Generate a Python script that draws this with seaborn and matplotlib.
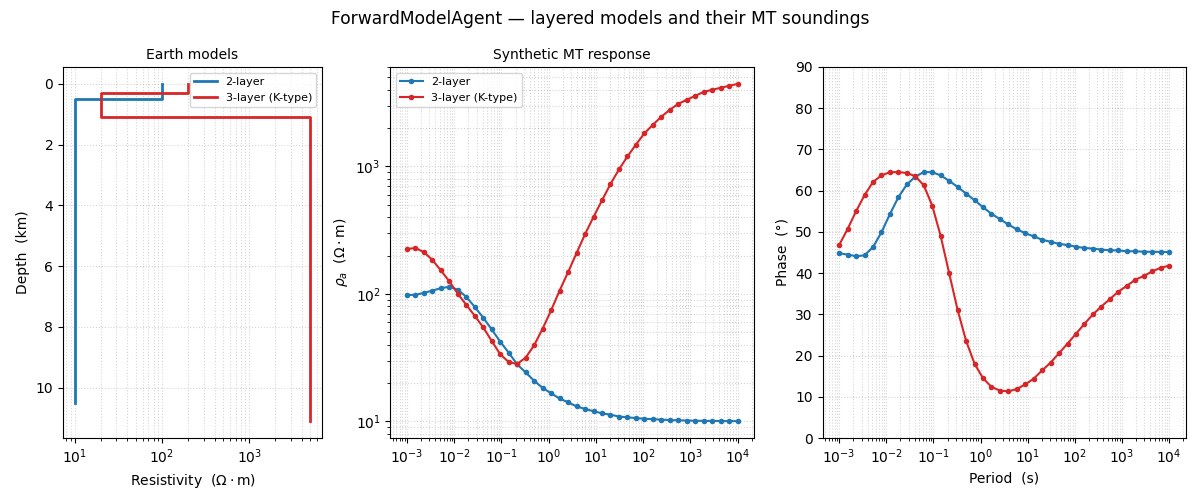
import numpy as np
import pandas as pd
import matplotlib
matplotlib.use('Agg')
import matplotlib.pyplot as plt
import seaborn as sns

# --- layered models (resistivity in ohm-m, thickness in km) ---
rho_2layer = [100, 10]
thk_2layer = [0.5]
rho_3layer = [200, 20, 5000]
thk_3layer = [0.3, 0.8]
halfspace_extra = 10.0  # km drawn below the last interface

# --- MT soundings ---
periods = np.logspace(-3, 4, 40)

rhoa_2layer = [98.2, 98.2, 102, 106, 111, 113.5, 108, 94.8, 79, 65,
               52.6, 42.2, 34.6, 28.0, 24.2, 20.8, 18.3, 16.6, 15.1, 14.1,
               13.1, 12.5, 12.0, 11.55, 11.27, 10.9, 10.74, 10.6, 10.47, 10.4,
               10.3, 10.23, 10.18, 10.14, 10.1, 10.08, 10.06, 10.05, 10.04, 10.03]
rhoa_3layer = [225, 229, 213, 185, 153, 125.5, 100.5, 82, 67.3, 54.6,
               42.7, 33.6, 29.2, 28.2, 31.6, 39.5, 53.3, 74.2, 106, 148,
               209, 294, 402, 542, 728, 948, 1198, 1485, 1820, 2128,
               2460, 2787, 3105, 3337, 3588, 3855, 3998, 4145, 4297, 4450]

phase_2layer = [44.8, 44.5, 44.1, 44.3, 46.3, 49.9, 54.3, 58.4, 61.5, 63.4,
                64.5, 64.5, 63.7, 62.4, 60.9, 59.3, 57.7, 56.0, 54.4, 53.1,
                51.8, 50.6, 49.7, 48.9, 48.1, 47.6, 47.1, 46.8, 46.4, 46.1,
                45.95, 45.7, 45.55, 45.5, 45.3, 45.3, 45.2, 45.15, 45.15, 45.1]
phase_3layer = [46.8, 50.7, 55.0, 58.9, 62.1, 63.7, 64.5, 64.5, 64.3, 63.5,
                61.3, 56.4, 49.0, 40.0, 31.1, 23.6, 18.05, 14.5, 12.4, 11.5,
                11.3, 11.9, 13.0, 14.4, 16.4, 18.3, 20.6, 22.9, 25.3, 27.7,
                30.0, 31.9, 33.7, 35.5, 36.9, 38.4, 39.3, 40.4, 41.3, 41.8]

labels = ['2-layer', '3-layer (K-type)']
colors = ['tab:blue', 'tab:red']


def step_profile(rho, thk, extra):
    tops = [0.0] + list(np.cumsum(thk))
    bottom = tops[-1] + extra
    xs, ys = [], []
    for i, r in enumerate(rho):
        z0 = tops[i]
        z1 = tops[i + 1] if i + 1 < len(tops) else bottom
        xs += [r, r]
        ys += [z0, z1]
    return xs, ys


# build tidy frames
model_rows = []
for lab, rho, thk in zip(labels, [rho_2layer, rho_3layer], [thk_2layer, thk_3layer]):
    xs, ys = step_profile(rho, thk, halfspace_extra)
    for x, y in zip(xs, ys):
        model_rows.append({'model': lab, 'rho': x, 'depth': y})
models_df = pd.DataFrame(model_rows)

mt_df = pd.concat([
    pd.DataFrame({'model': labels[0], 'period': periods, 'rhoa': rhoa_2layer, 'phase': phase_2layer}),
    pd.DataFrame({'model': labels[1], 'period': periods, 'rhoa': rhoa_3layer, 'phase': phase_3layer}),
], ignore_index=True)

palette = dict(zip(labels, colors))

fig, axes = plt.subplots(1, 3, figsize=(12, 5), gridspec_kw={'width_ratios': [259, 364, 363]})
fig.subplots_adjust(left=0.0525, right=0.988, top=0.866, bottom=0.124, wspace=0.208)

# --- Earth models ---
ax = axes[0]
sns.lineplot(data=models_df, x='rho', y='depth', hue='model', palette=palette,
             sort=False, estimator=None, lw=2, ax=ax)
ax.set_xscale('log')
ax.invert_yaxis()
ax.set_xlabel(r'Resistivity  ($\Omega\cdot$m)')
ax.set_ylabel('Depth  (km)')
ax.set_title('Earth models', fontsize=10)
ax.grid(True, which='both', ls=':', alpha=0.5)
ax.legend(loc='upper right', fontsize=8)

# --- apparent resistivity ---
ax = axes[1]
sns.lineplot(data=mt_df, x='period', y='rhoa', hue='model', palette=palette,
             marker='o', markersize=4, markeredgewidth=0, lw=1.5, ax=ax)
ax.set_xscale('log')
ax.set_yscale('log')
ax.set_xlabel('')
ax.set_ylabel(r'$\rho_a$  ($\Omega\cdot$m)')
ax.set_title('Synthetic MT response', fontsize=10)
ax.grid(True, which='both', ls=':', alpha=0.5)
ax.legend(loc='upper left', fontsize=8)

# --- phase ---
ax = axes[2]
sns.lineplot(data=mt_df, x='period', y='phase', hue='model', palette=palette,
             marker='o', markersize=4, markeredgewidth=0, lw=1.5, ax=ax, legend=False)
ax.set_xscale('log')
ax.set_ylim(0, 90)
ax.set_yticks(range(0, 91, 10))
ax.set_xlabel('Period  (s)')
ax.set_ylabel('Phase  (°)')
ax.grid(True, which='both', ls=':', alpha=0.5)

fig.suptitle('ForwardModelAgent — layered models and their MT soundings', fontsize=12.3)
fig.savefig('out.png', dpi=100)
